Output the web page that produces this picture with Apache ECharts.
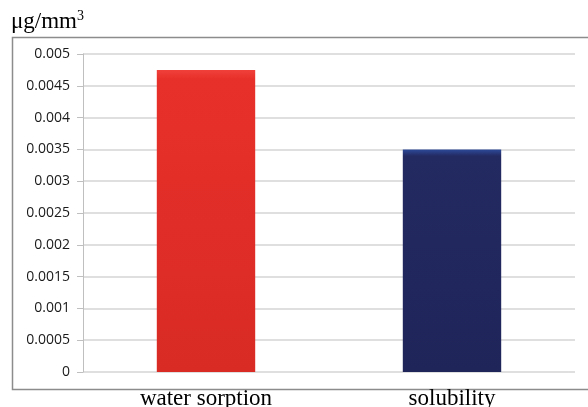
<!DOCTYPE html>
<html>
<head>
<meta charset="utf-8">
<script src="https://cdn.jsdelivr.net/npm/echarts@6/dist/echarts.min.js"></script>
<style>
  html, body { margin: 0; padding: 0; background: #fff; }
  #chart { width: 588px; height: 407px; }
</style>
</head>
<body>
<div id="chart"></div>
<script>
// Measured quantities per specimen volume
const categories = ['water sorption', 'solubility'];
const values = [0.00475, 0.0035];
const barColors = [
  ['#f0403a', '#e8302a', '#d92a24'],
  ['#2d4a9a', '#232a61', '#1f2559']
];

const chart = echarts.init(document.getElementById('chart'));

chart.setOption({
  animation: false,
  grid: { left: 83, right: 13, top: 54, bottom: 35, containLabel: false, outerBoundsMode: 'none' },
  graphic: [
    {
      type: 'rect',
      shape: { x: 12.5, y: 37.5, width: 600, height: 352 },
      style: { fill: 'none', stroke: '#8c8c8c', lineWidth: 1.5 },
      silent: true
    },
    {
      type: 'text',
      left: 11,
      top: 9,
      style: {
        text: '{b|μg/mm}{s|3}',
        rich: {
          b: { fontFamily: 'Liberation Serif', fontSize: 23, fill: '#000' },
          s: { fontFamily: 'Liberation Serif', fontSize: 14, fill: '#000', verticalAlign: 'top', padding: [0, 0, 12, 0] }
        }
      }
    }
  ],
  xAxis: {
    type: 'category',
    data: categories,
    axisLine: { show: false },
    axisTick: { show: false },
    axisLabel: {
      margin: 15,
      fontFamily: 'Liberation Serif',
      fontSize: 23,
      color: '#000'
    }
  },
  yAxis: {
    type: 'value',
    min: 0,
    max: 0.005,
    interval: 0.0005,
    axisLine: { show: true, lineStyle: { color: '#bfbfbf', width: 1 } },
    axisTick: { show: true, length: 6, lineStyle: { color: '#bfbfbf' } },
    splitLine: { lineStyle: { color: '#d4d4d4', width: 1.5 } },
    axisLabel: {
      margin: 13,
      fontFamily: 'Open Sans',
      fontSize: 14,
      color: '#1a1a1a',
      formatter: v => String(parseFloat(v.toFixed(4)))
    }
  },
  series: [{
    type: 'bar',
    barWidth: '40%',
    data: values.map((v, i) => ({
      value: v,
      itemStyle: {
        color: {
          type: 'linear', x: 0, y: 0, x2: 0, y2: 1,
          colorStops: [
            { offset: 0, color: barColors[i][0] },
            { offset: 0.03, color: barColors[i][1] },
            { offset: 1, color: barColors[i][2] }
          ]
        }
      }
    }))
  }]
});
</script>
</body>
</html>
